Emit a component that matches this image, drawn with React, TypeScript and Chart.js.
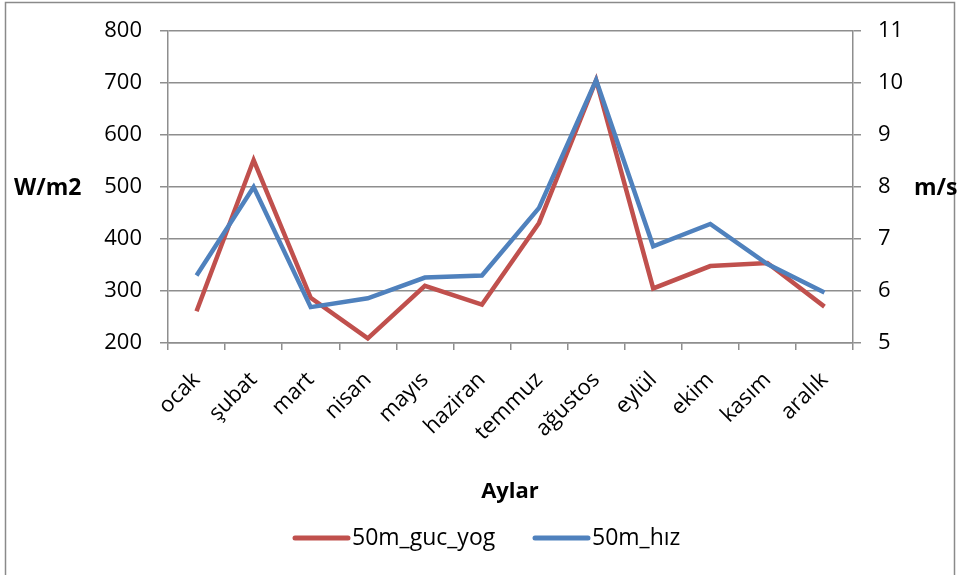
import React, { useEffect, useRef } from "react";
import { Chart, registerables } from "chart.js";

Chart.register(...registerables);

const months = ["ocak", "şubat", "mart", "nisan", "mayıs", "haziran", "temmuz", "ağustos", "eylül", "ekim", "kasım", "aralık"];
const powerDensity = [261, 552, 287, 209, 310, 274, 431, 706, 305, 348, 354, 270];
const windSpeed = [6.3, 8.0, 5.69, 5.86, 6.26, 6.3, 7.6, 10.06, 6.86, 7.29, 6.52, 5.97];
const leftTicks = [200, 300, 400, 500, 600, 700, 800];
const rightTicks = [5, 6, 7, 8, 9, 10, 11];
const seriesNames = ["50m_guc_yog", "50m_hız"];
const xTitle = "Aylar";
const leftTitle = "W/m2";
const rightTitle = "m/s";

const RED = "#C0504D";
const BLUE = "#4F81BD";
const GRID = "#8E8E8E";
const FONT = "'Open Sans', 'DejaVu Sans', sans-serif";

const W = 957;
const H = 575;

const overlay = {
  id: "overlay",
  afterDraw(chart: any) {
    const ctx = chart.ctx;
    ctx.save();
    // outer frame
    ctx.strokeStyle = "#8a8a8a";
    ctx.lineWidth = 1.5;
    ctx.strokeRect(5.5, 2.5, 949, 600);
    // axis titles
    ctx.fillStyle = "#000";
    ctx.font = "bold 23px " + FONT;
    ctx.textBaseline = "middle";
    ctx.textAlign = "left";
    ctx.fillText(leftTitle, 14, 188);
    ctx.fillText(rightTitle, 914, 188);
    ctx.font = "bold 22px " + FONT;
    ctx.textAlign = "center";
    ctx.fillText(xTitle, 510, 492);
    // legend
    const items = [
      { x: 295, color: RED, text: seriesNames[0] },
      { x: 535, color: BLUE, text: seriesNames[1] },
    ];
    ctx.font = "23px " + FONT;
    ctx.textAlign = "left";
    for (const it of items) {
      ctx.strokeStyle = it.color;
      ctx.lineWidth = 5;
      ctx.lineCap = "round";
      ctx.beginPath();
      ctx.moveTo(it.x, 538);
      ctx.lineTo(it.x + 53, 538);
      ctx.stroke();
      ctx.fillText(it.text, it.x + 57, 538);
    }
    ctx.restore();
  },
};

export default function App() {
  const ref = useRef<HTMLCanvasElement | null>(null);
  useEffect(() => {
    document.body.style.margin = "0";
    const canvas = ref.current!;
    const chart = new Chart(canvas, {
      type: "line",
      data: {
        labels: months,
        datasets: [
          {
            label: seriesNames[0],
            data: powerDensity,
            borderColor: RED,
            backgroundColor: RED,
            borderWidth: 4.5,
            pointRadius: 0,
            tension: 0,
            yAxisID: "y",
            order: 1,
          },
          {
            label: seriesNames[1],
            data: windSpeed,
            borderColor: BLUE,
            backgroundColor: BLUE,
            borderWidth: 4.5,
            pointRadius: 0,
            tension: 0,
            yAxisID: "y1",
            order: 0,
          },
        ],
      },
      options: {
        responsive: false,
        animation: false,
        events: [],
        layout: { padding: { top: 31, left: 0, right: 0, bottom: 0 } },
        plugins: { legend: { display: false }, tooltip: { enabled: false } },
        scales: {
          x: {
            type: "category",
            offset: true,
            grid: { display: true, drawOnChartArea: false, drawTicks: true, tickLength: 7, color: GRID, lineWidth: 1.5, offset: true },
            border: { display: true, color: GRID, width: 1.5 },
            ticks: { minRotation: 45, maxRotation: 45, padding: 17, color: "#000", font: { family: FONT, size: 22 }, autoSkip: false },
            afterFit: (s: any) => { s.height = H - 343; },
          },
          y: {
            position: "left",
            min: 200,
            max: 800,
            afterBuildTicks: (s: any) => { s.ticks = leftTicks.map((v) => ({ value: v })); },
            grid: { color: GRID, lineWidth: 1.5, tickLength: 8 },
            border: { display: true, color: GRID, width: 1.5 },
            ticks: { padding: 18, color: "#000", font: { family: FONT, size: 22 } },
            afterFit: (s: any) => { s.width = 168; },
          },
          y1: {
            position: "right",
            min: 5,
            max: 11,
            afterBuildTicks: (s: any) => { s.ticks = rightTicks.map((v) => ({ value: v })); },
            grid: { drawOnChartArea: false, color: GRID, lineWidth: 1.5, tickLength: 8 },
            border: { display: true, color: GRID, width: 1.5 },
            ticks: { padding: 17, color: "#000", font: { family: FONT, size: 22 } },
            afterFit: (s: any) => { s.width = W - 853; },
          },
        },
      },
      plugins: [overlay],
    } as any);
    return () => chart.destroy();
  }, []);
  return (
    <div style={{ position: "fixed", left: 0, top: 0, width: W, height: H, background: "#fff" }}>
      <canvas ref={ref} width={W} height={H} style={{ display: "block" }} />
    </div>
  );
}
